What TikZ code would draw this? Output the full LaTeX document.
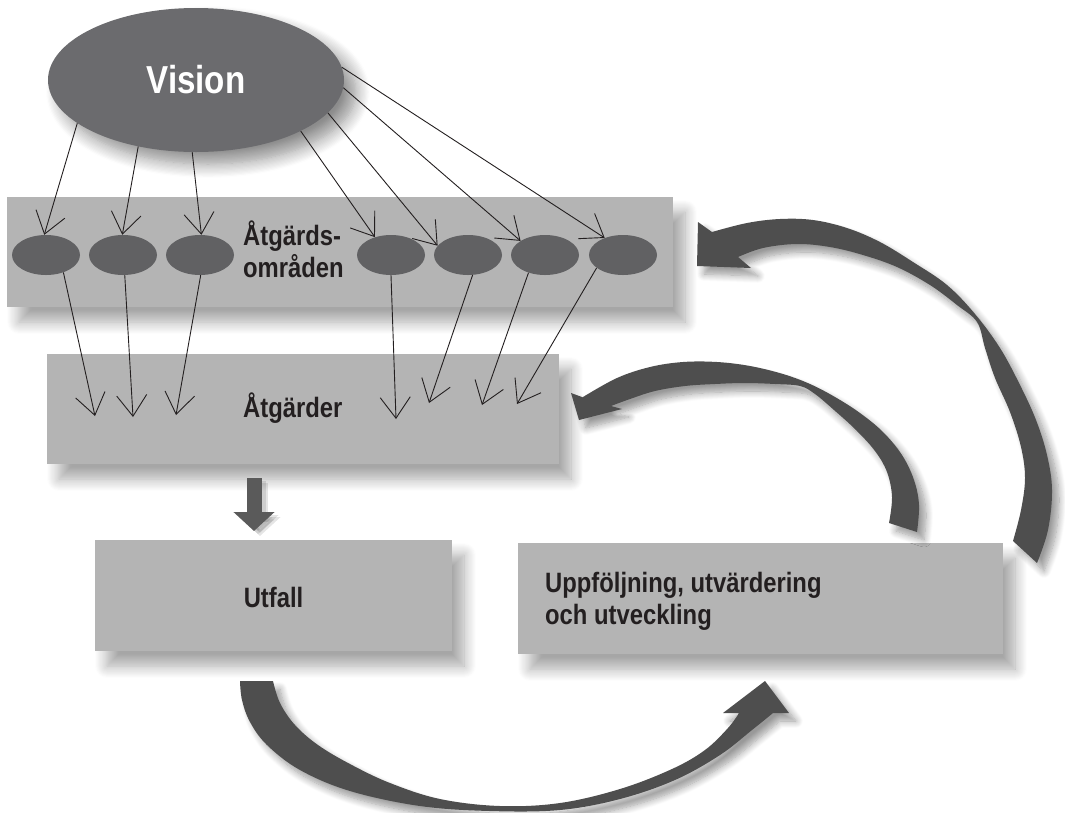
\documentclass[tikz,border=0pt]{standalone}
\usepackage{fontspec}
\setmainfont{Liberation Sans}[FakeStretch=0.85]
\usetikzlibrary{arrows.meta,shapes.geometric,shadows.blur}
\definecolor{boxgray}{HTML}{B4B4B4}
\definecolor{visgray}{HTML}{6B6B6E}
\definecolor{ellgray}{HTML}{616163}
\definecolor{arrgray}{HTML}{4E4E4E}
\definecolor{downgray}{HTML}{5A5A5A}
\definecolor{ink}{HTML}{231F20}
\begin{document}
\begin{tikzpicture}[x=1pt,y=-1pt,
  boxshadow/.style={blur shadow={shadow xshift=12pt, shadow yshift=-15pt, shadow blur radius=12pt, shadow blur steps=12, shadow opacity=35}},
  box/.style={rectangle, fill=boxgray, inner sep=0pt, boxshadow},
  vis/.style={ellipse, fill=visgray, minimum width=296pt, minimum height=144pt, inner sep=0pt, text=white,
    font=\bfseries\fontsize{39}{42}\selectfont,
    blur shadow={shadow xshift=12pt, shadow yshift=-12pt, shadow blur radius=14pt, shadow blur steps=12, shadow opacity=45}},
  sell/.style={ellipse, fill=ellgray, minimum width=68pt, minimum height=40pt, inner sep=0pt},
  lbl/.style={text=ink, inner sep=0pt, font=\bfseries\fontsize{28}{31.5}\selectfont},
  thinarrow/.style={draw=ink, line width=0.9pt, -{Straight Barb[length=21pt,width=30pt]}},
  fatarrow/.style={line width=15pt, -{Triangle[length=19pt,width=40pt]}},
  band/.style={fill=arrgray, blur shadow={shadow xshift=7pt, shadow yshift=-8pt, shadow blur radius=7pt, shadow blur steps=10, shadow opacity=40}}
]
\useasboundingbox (0,0) rectangle (1065,812);

% boxes
\node[box, minimum width=666pt, minimum height=110pt] (omrbox) at (340,252) {};
\node[box, minimum width=512pt, minimum height=110pt] (atgbox) at (303,409) {};
\node[box, minimum width=357pt, minimum height=111pt] (utfbox) at (273.5,595.5) {};
\node[box, minimum width=485pt, minimum height=111pt] (uppbox) at (760.5,598.5) {};

% vision and areas
\node[vis] (vision) at (196,80) {Vision};
\node[sell] (e1) at (46,255) {};
\node[sell] (e2) at (123,255) {};
\node[sell] (e3) at (200,255) {};
\node[sell] (e4) at (391,255) {};
\node[sell] (e5) at (468,255) {};
\node[sell] (e6) at (545,255) {};
\node[sell] (e7) at (623,255) {};

% labels (base anchor of a multi-line node = last line's baseline)
\node[lbl, anchor=base west, align=left] (omrtxt) at (243,277) {Åtgärds-\\områden};
\node[lbl, anchor=base west] (atgtxt) at (243,417) {Åtgärder};
\node[lbl, anchor=base] (utftxt) at (273.5,607) {Utfall};
\node[lbl, anchor=base west, align=left] (upptxt) at (545,624) {Uppföljning, utvärdering\\och utveckling};

% thin arrows vision -> areas
\draw[thinarrow] (vision.200) -- (e1.95);
\draw[thinarrow] (vision.229) -- (e2.92);
\draw[thinarrow] (vision.267) -- (e3.86);
\draw[thinarrow] (vision.334) -- (e4.132);
\draw[thinarrow] (vision.346) -- (e5.163);
\draw[thinarrow] (vision.357) -- (e6.150);
\draw[thinarrow] (vision.5) -- (e7.137);

% thin arrows areas -> actions
\coordinate (t1) at (95,416);
\coordinate (t2) at (133,417);
\coordinate (t3) at (176,415);
\coordinate (t4) at (396,419);
\coordinate (t5) at (429,403);
\coordinate (t6) at (482,405);
\coordinate (t7) at (517,404);
\draw[thinarrow] (e1.315) -- (t1);
\draw[thinarrow] (e2.275) -- (t2);
\draw[thinarrow] (e3.272) -- (t3);
\draw[thinarrow] (e4.270) -- (t4);
\draw[thinarrow] (e5.283) -- (t5);
\draw[thinarrow] (e6.227) -- (t6);
\draw[thinarrow] (e7.206) -- (t7);

% thick down arrow
\coordinate (d1) at (254,478);
\coordinate (d2) at (254,531);
\draw[fatarrow, black, opacity=0.10, transform canvas={shift={(6pt,-5pt)}}] (d1) -- (d2);
\draw[fatarrow, black, opacity=0.10, transform canvas={shift={(4pt,-3pt)}}] (d1) -- (d2);
\draw[fatarrow, downgray] (d1) -- (d2);

% curved arrow: Utfall -> Uppfoljning
\fill[band] plot[smooth, tension=0.6] coordinates {(240,681) (242,700) (250,722) (267,745) (300,770) (350,791) (420,806) (490,811) (560,810) (620,799) (675,780) (720,755) (752,730) (773,713)}
  -- (789,713) -- (765,681) -- (723,713) -- (739,713)
  -- plot[smooth, tension=0.6] coordinates {(739,713) (728,728) (705,750) (672,769) (620,789) (560,803) (500,806) (440,799) (390,783) (350,764) (318,745) (295,725) (280,703) (273,681)}
  -- cycle;

% curved arrow: Uppfoljning -> Atgarder
\fill[band] (579,420) -- (571,393) -- (583,397.4)
  -- plot[smooth, tension=0.6] coordinates {(583,397) (617,378) (650,367) (683,362) (717,362) (750,366) (783,374) (810,384) (835,397) (860,413) (883,432) (902,455) (914,480) (919,505) (917,532)}
  -- (889,523)
  -- plot[smooth, tension=0.6] coordinates {(889,523) (892,497) (887,472) (875,451) (856,430) (834,410) (815,394) (800,386) (775,384) (745,383) (715,384) (685,386) (655,391) (630,399) (611,406)}
  -- (622,409) -- cycle;

% curved arrow: Uppfoljning -> Atgardsomraden
\fill[band] (697,266) -- (698,222) -- (712,232)
  -- plot[smooth, tension=0.6] coordinates {(712,232) (747,223) (780,219) (813,220) (847,228) (880,242) (913,262) (947,285) (975,314) (1000,348) (1020,385) (1036,420) (1047,455) (1052,490) (1048,530) (1037,563)}
  -- (1013,541)
  -- plot[smooth, tension=0.6] coordinates {(1013,541) (1021,510) (1025,478) (1021,447) (1010,412) (995,378) (985,348) (977,322) (957,305) (930,285) (897,267) (863,255) (830,247) (797,244) (763,248) (738,257)}
  -- (751,268) -- cycle;
\end{tikzpicture}
\end{document}
